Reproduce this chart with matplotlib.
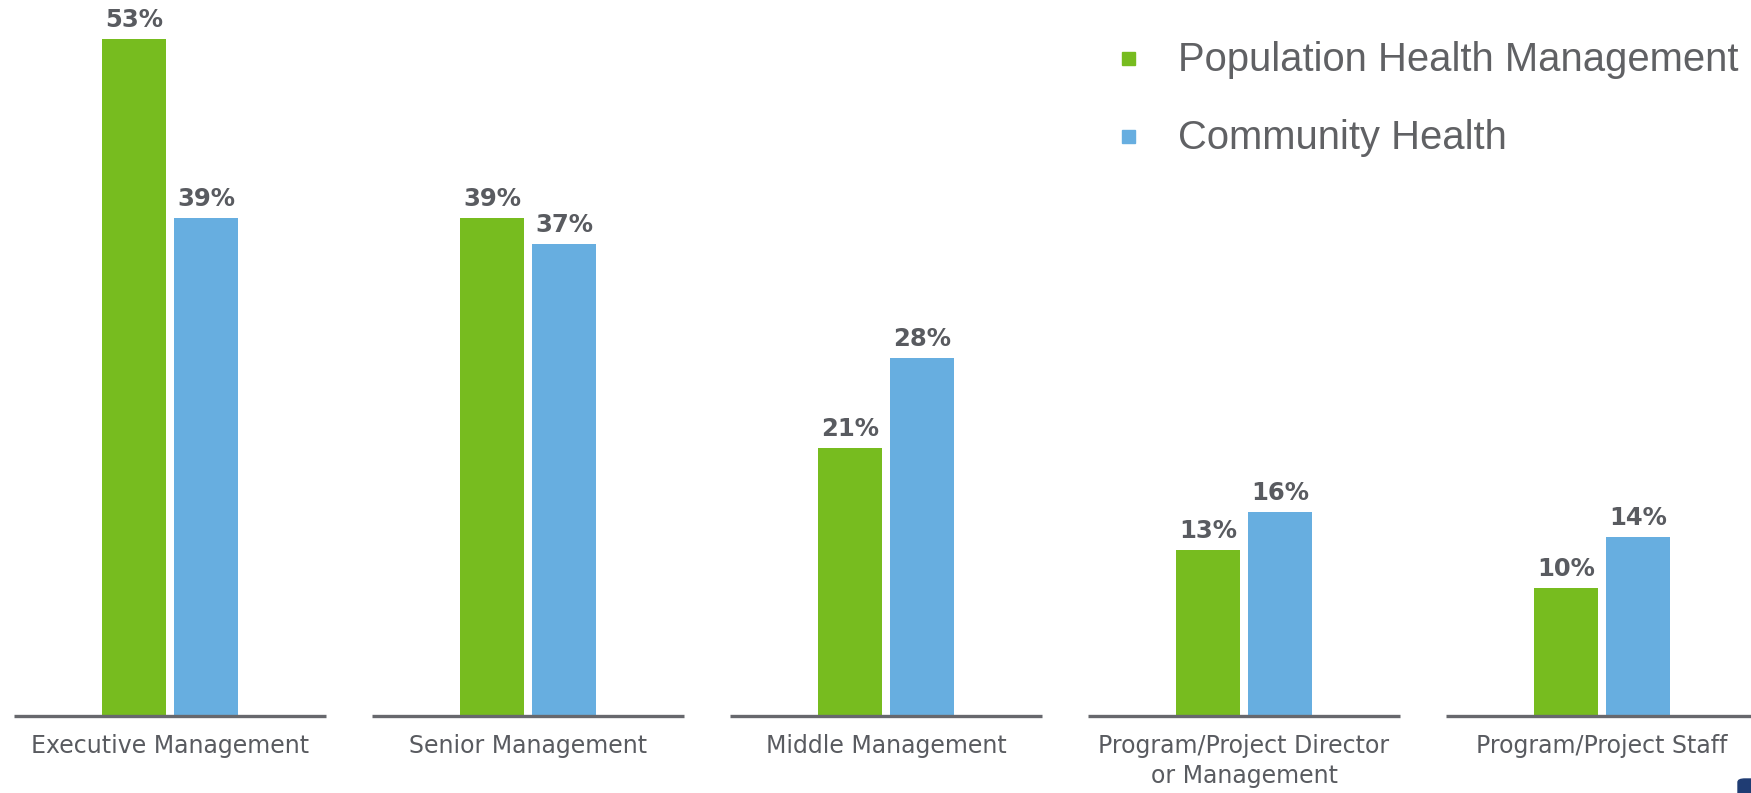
import numpy as np
import matplotlib.pyplot as plt
from matplotlib.patches import FancyBboxPatch

categories = ["Executive Management", "Senior Management", "Middle Management",
              "Program/Project Director\nor Management", "Program/Project Staff"]
pop_health = [53, 39, 21, 13, 10]
comm_health = [39, 37, 28, 16, 14]
series_names = ["Population Health Management", "Community Health"]

green = "#77bc1f"
blue = "#67aee0"
label_col = "#595b60"
base_col = "#67686d"

plt.rcParams['font.family'] = ['Liberation Sans', 'DejaVu Sans']

W, H = 1751, 793
fig = plt.figure(figsize=(W / 100, H / 100), dpi=100)

# layout in pixels: group centre 170 + 358*i, baseline 716 px from top
x0, step = 170, 358
base_px = 716
ax = fig.add_axes([0, (H - base_px) / H, 1, base_px / H])
ax.set_xlim(-x0 / step, (W - x0) / step)
ax.set_ylim(0, base_px / 12.77)
ax.axis('off')

x = np.arange(len(categories))
bw = 64 / step
off = 36 / step
b1 = ax.bar(x - off, pop_health, bw, color=green, label=series_names[0])
b2 = ax.bar(x + off, comm_health, bw, color=blue, label=series_names[1])

for bars, vals in [(b1, pop_health), (b2, comm_health)]:
    for r, v in zip(bars, vals):
        ax.annotate(f"{v}%", (r.get_x() + r.get_width() / 2, v),
                    xytext=(0, 5), textcoords='offset points',
                    ha='center', va='bottom', fontsize=17.5, fontweight='bold',
                    color=label_col, family='DejaVu Sans')

half = 156 / step
for i, name in enumerate(categories):
    ax.plot([i - half, i + half], [0, 0], color=base_col, lw=2.4,
            solid_capstyle='butt', clip_on=False)
    ax.annotate(name, (i, 0), xytext=(0, -13), textcoords='offset points',
                ha='center', va='top', fontsize=17, color=label_col,
                linespacing=1.3, annotation_clip=False, family='DejaVu Sans')

# legend
for k, (name, col) in enumerate(zip(series_names, [green, blue])):
    yc = 1 - (58 + 78 * k) / H
    fig.patches.append(plt.Rectangle((1122 / W, yc - 7 / H), 13 / W, 13 / H,
                                     color=col, transform=fig.transFigure))
    fig.text(1178 / W, yc - 2 / H, name, fontsize=28.8, color="#606164",
             ha='left', va='center')

# corner logo fragment
fig.patches.append(FancyBboxPatch((1738 / W, -6 / H), 20 / W, 20 / H,
                                  boxstyle="round,pad=0,rounding_size=0.004",
                                  color="#1f3c73", transform=fig.transFigure))

fig.savefig("out.png", dpi=100)
